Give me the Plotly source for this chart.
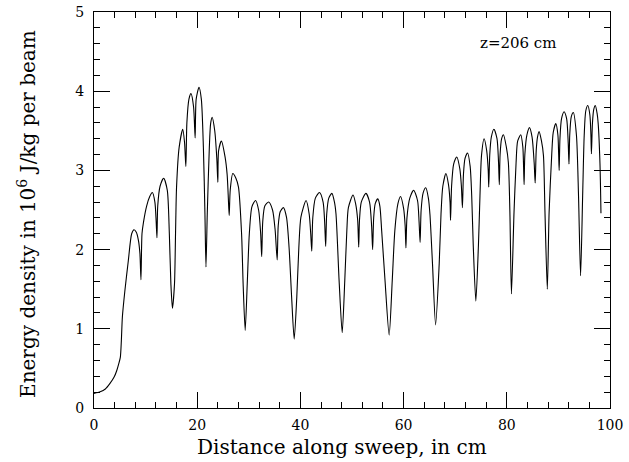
import plotly.graph_objects as go

# Distance along sweep (cm) and energy density (10^6 J/kg per beam)
distance_cm = [
    0, 1.2, 2.2, 3.1, 3.9, 4.4, 4.8, 5.1, 5.3, 5.5, 6.0, 6.65, 7.3, 7.75, 8.2, 8.6, 8.9, 9.1,
    9.3, 9.6, 10.2, 10.8, 11.3, 11.8, 12.05, 12.2,
    12.35, 12.8, 13.5, 14.2, 14.6, 14.9, 15.2,
    15.6, 15.8, 16.0, 16.5, 17.2, 17.55, 17.8,
    18.0, 18.4, 18.8, 19.3, 19.6,
    19.8, 20.35, 20.8, 21.2, 21.5, 21.7,
    21.95, 22.35, 22.6, 22.9, 23.4, 23.8, 24.0,
    24.15, 24.7, 25.4, 25.8, 26.0, 26.2,
    26.4, 26.9, 27.5, 28.0, 28.6, 28.9, 29.3,
    29.7, 30.1, 30.6, 31.3, 31.9, 32.3, 32.5,
    32.7, 33.1, 33.85, 34.6, 35.1, 35.5,
    35.7, 36.1, 36.7, 37.3, 37.8, 38.3, 38.8,
    39.3, 39.7, 40.1, 41.1, 41.7, 42.0, 42.2,
    42.4, 42.9, 43.7, 44.4, 44.7, 44.9,
    45.1, 45.5, 46.1, 46.6, 46.9, 47.5, 48.1,
    48.6, 49.0, 49.3, 50.2, 50.7, 51.1, 51.3,
    51.45, 51.8, 52.7, 53.4, 53.8, 54.0,
    54.2, 54.5, 55.0, 55.4, 55.75, 56.4, 57.2,
    57.8, 58.3, 58.9, 59.4, 60.0, 60.3, 60.45,
    60.65, 61.2, 61.95, 62.7, 63.0, 63.2,
    63.4, 63.8, 64.3, 64.8, 65.1, 65.6, 66.2,
    66.9, 67.25, 67.6, 68.2, 68.7, 69.0, 69.1,
    69.3, 69.7, 70.3, 70.9, 71.2, 71.4,
    71.6, 71.9, 72.4, 72.9, 73.2, 73.5, 74.0,
    74.5, 74.8, 75.1, 75.6, 76.1, 76.4, 76.5,
    76.7, 77.0, 77.5, 78.1, 78.4, 78.55,
    78.7, 79.0, 79.35, 79.9, 80.3, 80.6, 80.9,
    81.4, 81.8, 82.1, 82.7, 83.1, 83.25, 83.35,
    83.5, 83.9, 84.4, 84.9, 85.3, 85.5,
    85.7, 85.95, 86.25, 86.7, 87.1, 87.4, 87.85,
    88.2, 88.7, 89.0, 89.5, 89.9, 90.05, 90.15,
    90.3, 90.6, 91.1, 91.6, 91.9, 92.05,
    92.2, 92.5, 92.9, 93.5, 93.9, 94.3,
    94.7, 95.0, 95.3, 95.7, 96.1, 96.3, 96.4,
    96.6, 96.85, 97.15, 97.5, 97.7, 98.05, 98.25,
]
energy_density = [
    0.185, 0.205, 0.24, 0.31, 0.39, 0.47, 0.56, 0.64, 0.85, 1.15, 1.49, 1.86, 2.2, 2.25, 2.22, 2.12, 1.95, 1.62,
    2.2, 2.35, 2.55, 2.67, 2.72, 2.6, 2.35, 2.15,
    2.55, 2.8, 2.9, 2.75, 2.2, 1.57, 1.26,
    1.57, 2.2, 2.79, 3.29, 3.52, 3.35, 3.05,
    3.6, 3.9, 3.97, 3.8, 3.41,
    3.9, 4.05, 3.9, 3.29, 2.45, 1.78,
    2.45, 3.29, 3.59, 3.67, 3.5, 3.15, 2.85,
    3.25, 3.37, 3.17, 2.95, 2.7, 2.43,
    2.75, 2.96, 2.9, 2.79, 2.2, 1.57, 0.98,
    1.57, 2.2, 2.54, 2.62, 2.5, 2.2, 1.91,
    2.35, 2.55, 2.6, 2.5, 2.25, 1.87,
    2.3, 2.48, 2.53, 2.41, 2.03, 1.4, 0.87,
    1.4, 2.03, 2.41, 2.62, 2.45, 2.2, 1.98,
    2.4, 2.65, 2.72, 2.6, 2.35, 2.04,
    2.45, 2.65, 2.71, 2.6, 2.45, 1.61, 0.95,
    1.61, 2.24, 2.53, 2.69, 2.58, 2.37, 2.03,
    2.37, 2.6, 2.71, 2.6, 2.3, 2.0,
    2.4, 2.58, 2.64, 2.55, 2.24, 1.61, 0.92,
    1.61, 2.24, 2.58, 2.67, 2.52, 2.3, 2.02,
    2.4, 2.65, 2.75, 2.62, 2.35, 2.09,
    2.5, 2.72, 2.78, 2.65, 2.45, 1.82, 1.05,
    1.82, 2.45, 2.8, 2.96, 2.82, 2.6, 2.37,
    2.8, 3.08, 3.17, 3.02, 2.8, 2.53,
    2.95, 3.15, 3.22, 3.05, 2.68, 2.05, 1.35,
    2.05, 2.68, 3.19, 3.40, 3.25, 3.0, 2.79,
    3.2, 3.42, 3.52, 3.4, 3.1, 2.82,
    3.2, 3.4, 3.45, 3.3, 3.1, 2.47, 1.44,
    2.47, 3.1, 3.37, 3.45, 3.3, 3.05, 2.82,
    3.2, 3.45, 3.54, 3.42, 3.1, 2.84,
    3.25, 3.42, 3.49, 3.38, 3.19, 2.47, 1.5,
    2.47, 3.19, 3.48, 3.59, 3.45, 3.2, 3.0,
    3.4, 3.65, 3.74, 3.65, 3.35, 3.08,
    3.45, 3.68, 3.73, 3.44, 2.68, 1.67,
    2.68, 3.44, 3.75, 3.82, 3.7, 3.45, 3.21,
    3.6, 3.77, 3.82, 3.72, 3.6, 3.1, 2.46,
]

x_ticks = [0, 20, 40, 60, 80, 100]
y_ticks = [0, 1, 2, 3, 4, 5]

FONT = "DejaVu Serif"

fig = go.Figure()
fig.add_trace(go.Scatter(
    x=distance_cm, y=energy_density, mode="lines",
    line=dict(color="black", width=1.1, shape="spline", smoothing=0.7),
    hoverinfo="skip", showlegend=False,
))

axis_common = dict(
    showline=True, linecolor="black", linewidth=1, mirror="ticks",
    ticks="inside", ticklen=16, tickwidth=1, tickcolor="black",
    showgrid=False, zeroline=False, automargin=False,
    tickfont=dict(family=FONT, size=14, color="black"),
)

fig.update_xaxes(range=[0, 100], tickvals=x_ticks, ticktext=[str(v) for v in x_ticks],
                 minor=dict(ticks="inside", dtick=4, ticklen=6, tickwidth=1, tickcolor="black", showgrid=False),
                 ticklabelstandoff=4, **axis_common)
fig.update_yaxes(range=[0, 5], tickvals=y_ticks, ticktext=[str(v) for v in y_ticks],
                 minor=dict(ticks="inside", dtick=0.2, ticklen=6, tickwidth=1, tickcolor="black", showgrid=False),
                 ticklabelstandoff=6, **axis_common)

fig.add_annotation(text="Distance along sweep, in cm", xref="paper", yref="paper",
                   x=0.4806, y=-0.0985, xanchor="center", yanchor="middle", showarrow=False,
                   font=dict(family=FONT, size=20, color="black"))
fig.add_annotation(text="Energy density in 10<sup>6</sup> J/kg per beam", xref="paper", yref="paper",
                   x=(27 - 94) / 516, y=0.49, xanchor="center", yanchor="middle", textangle=-90,
                   showarrow=False, font=dict(family=FONT, size=20, color="black"))
fig.add_annotation(text="z=206 cm", xref="paper", yref="paper",
                   x=0.8236, y=0.9217, xanchor="center", yanchor="middle", showarrow=False,
                   font=dict(family=FONT, size=15, color="black"))

fig.update_layout(
    width=629, height=462,
    margin=dict(l=94, r=19, t=12, b=54, autoexpand=False),
    paper_bgcolor="white", plot_bgcolor="white",
)

fig.write_html(
    "out.html",
    config={"displayModeBar": False, "staticPlot": True},
    post_script="document.body.style.margin='0';document.body.style.overflow='hidden';",
)
